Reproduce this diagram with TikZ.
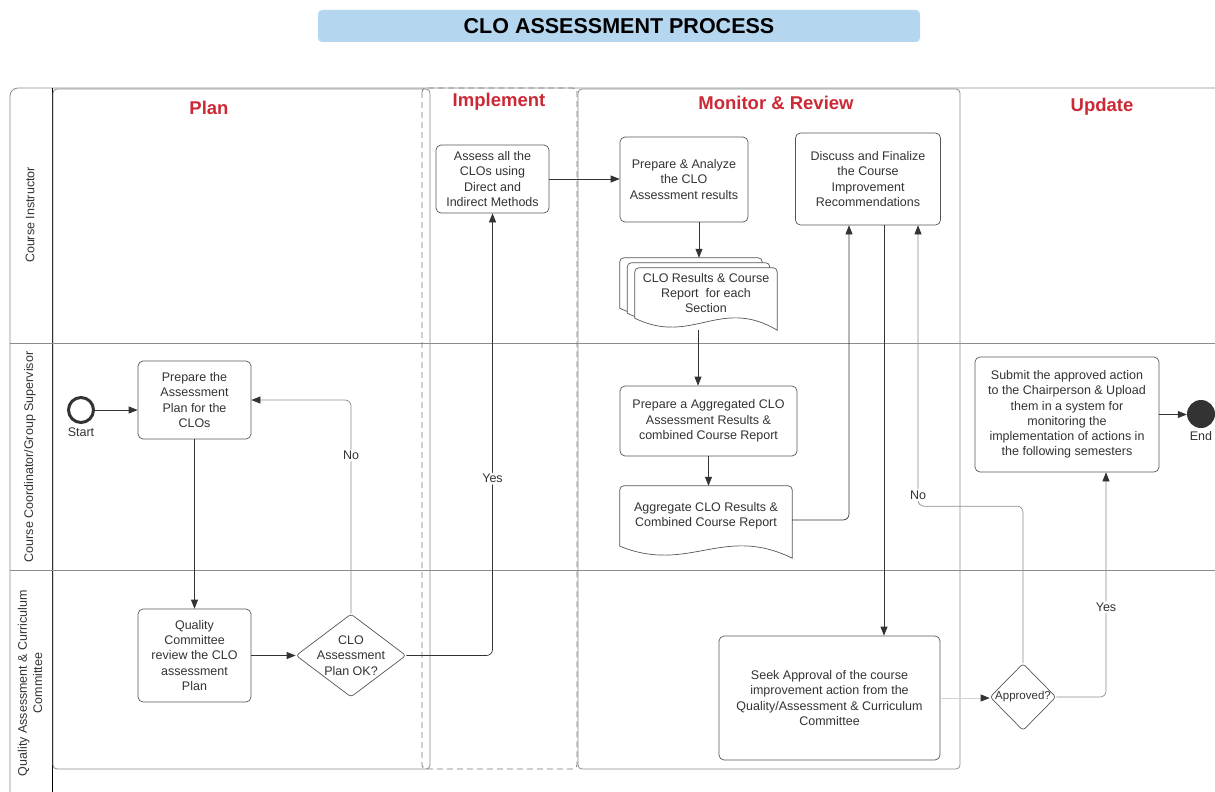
\documentclass[tikz,border=0pt]{standalone}
\usepackage{fontspec}
\setmainfont{Liberation Sans}
\usetikzlibrary{shapes.geometric,arrows.meta,calc,backgrounds}

\definecolor{titleblue}{HTML}{B5D6EF}
\definecolor{phasered}{HTML}{CC2936}
\definecolor{ink}{HTML}{333333}
\definecolor{edge}{HTML}{555555}
\definecolor{lane}{HTML}{8C8C8C}

\tikzset{
  txt/.style={font=\fontsize{12.5}{15.3}\selectfont, text=ink, align=center},
  task/.style={txt, draw=edge, line width=0.7pt, rounded corners=5pt, inner sep=2pt},
  decision/.style={txt, diamond, draw=edge, line width=0.7pt, rounded corners=3pt, inner sep=-12pt},
  docnode/.style={txt, inner sep=2pt},
  docline/.style={draw=edge, line width=0.7pt, fill=white},
  phase/.style={font=\fontsize{18.5}{22}\selectfont\bfseries, text=phasered},
  lanetitle/.style={txt, rotate=90},
  lbl/.style={txt, fill=white, inner sep=1.5pt},
  flow/.style={draw=ink, line width=0.7pt, rounded corners=6pt,
    -{Triangle[length=9pt,width=7pt,color=ink]}},
  faint/.style={flow, draw=lane},
  frame/.style={draw=lane, line width=0.8pt, rounded corners=4pt},
}

\newcommand\docoutline[2]{%
  \draw[docline] ($(#1.south west)+(#2)$) [rounded corners=4pt]
    -- ($(#1.north west)+(#2)$) -- ($(#1.north east)+(#2)$) [sharp corners]
    -- ($(#1.south east)+(#2)+(0,12)$)
    .. controls ($(#1.south west)!0.6!(#1.south east)+(#2)+(0,-22)$)
    and ($(#1.south west)!0.4!(#1.south east)+(#2)+(0,28)$) .. ($(#1.south west)+(#2)$)
    -- cycle;}

\begin{document}
\begin{tikzpicture}[x=1pt,y=-1pt]
\useasboundingbox (0,0) rectangle (1215,792);

\node[fill=titleblue, rounded corners=4pt, minimum width=602pt, minimum height=32pt,
  font=\fontsize{21.5}{24}\selectfont\bfseries] (title) at (619,26) {CLO ASSESSMENT PROCESS};

% pool and lanes
\draw[lane, line width=0.8pt, rounded corners=8pt] (10,792) -- (10,88) -- (1215,88);
\draw[black, line width=0.8pt] (52,88) -- (52,792);
\foreach \y in {343,570}
  \draw[lane, line width=0.8pt] (10,\y) -- (1215,\y);

\node[lanetitle] (instr) at (30,215) {Course Instructor};
\node[lanetitle] (coord) at (30,457) {Course Coordinator/Group Supervisor};
\node[lanetitle] (qacc) at (30,683) {Quality Assessment \& Curriculum\\Committee};

% phases
\draw[frame] (53,89) rectangle (430,769);
\draw[frame, draw=edge!80, dash pattern=on 6pt off 4pt] (422,88) rectangle (577,769);
\draw[frame] (578,89) rectangle (960,769);

\node[phase] (plan) at (209,108) {Plan};
\node[phase] (impl) at (499,102) {Implement};
\node[phase] (monitor) at (776,103) {Monitor \& Review};
\node[phase] (update) at (1102,107) {Update};

% steps
\node[task, minimum width=113pt, minimum height=68pt] (assess) at (492.5,179)
  {Assess all the\\CLOs using\\Direct and\\Indirect Methods};
\node[task, minimum width=128pt, minimum height=85pt] (analyze) at (684,179.5)
  {Prepare \& Analyze\\the CLO\\Assessment results};
\node[task, minimum width=145pt, minimum height=92pt] (discuss) at (868,179)
  {Discuss and Finalize\\the Course\\Improvement\\Recommendations};
\node[docnode, minimum width=142pt, minimum height=50pt] (clores) at (706,293)
  {CLO Results \& Course\\Report\ \ for each\\Section};

\node[circle, draw=ink, line width=3pt, minimum size=25pt, inner sep=0pt,
  label={[txt, inner sep=1pt, label distance=3pt]below:Start}] (start) at (81,410) {};
\node[task, minimum width=113pt, minimum height=78pt] (prepplan) at (194.5,400)
  {Prepare the\\Assessment\\Plan for the\\CLOs};
\node[task, minimum width=177pt, minimum height=70pt] (aggprep) at (708.5,421)
  {Prepare a Aggregated CLO\\Assessment Results \&\\combined Course Report};
\node[docnode, minimum width=172pt, minimum height=60pt] (aggdoc) at (706,516)
  {Aggregate CLO Results \&\\Combined Course Report};
\node[task, minimum width=184pt, minimum height=115pt] (submit) at (1067,414.5)
  {Submit the approved action\\to the Chairperson \& Upload\\them in a system for\\monitoring the\\implementation of actions in\\the following semesters};
\node[circle, fill=ink, minimum size=28pt, inner sep=0pt,
  label={[txt, inner sep=1pt, label distance=2pt]below:End}] (end) at (1201,414) {};

\node[task, minimum width=113pt, minimum height=93pt] (review) at (194.5,655.5)
  {Quality\\Committee\\review the CLO\\assessment\\Plan};
\node[decision, minimum width=110pt, minimum height=83pt] (planok) at (351,655.5)
  {CLO\\Assessment\\Plan OK?};
\node[task, minimum width=221pt, minimum height=124pt] (seek) at (829.5,698)
  {Seek Approval of the course\\improvement action from the\\Quality/Assessment \& Curriculum\\Committee};
\node[decision, minimum width=66pt, minimum height=67pt, font=\fontsize{11.5}{14}\selectfont]
  (approved) at (1023,697) {Approved?};

\begin{scope}[on background layer]
  \docoutline{clores}{-15,-10}
  \docoutline{clores}{-7.5,-5}
  \docoutline{clores}{0,0}
  \docoutline{aggdoc}{0,0}
\end{scope}

% connectors
\coordinate (clotop) at ($(clores.north)+(0,-10)$);
\coordinate (clobot) at ($(clores.south)+(-8,12)$);

\draw[flow] (start) -- (start -| prepplan.west);
\draw[flow] (prepplan) -- (review);
\draw[flow] (review) -- (planok);
\draw[faint] (planok.north) |- node[lbl, pos=0.37] (no1) {No} (prepplan.east);
\draw[flow] (planok.east) -| node[lbl, pos=0.70] (yes1) {Yes} (assess.south);
\draw[flow] (assess.east) -- (assess.east -| analyze.west);
\draw[flow] ([xshift=15pt]analyze.south) -- ([xshift=15pt]analyze.south |- clotop);
\draw[flow] (clobot) -- (clobot |- aggprep.north);
\draw[flow] (aggprep.south) -- (aggprep.south |- aggdoc.north);
\draw[flow] ([yshift=-4pt]aggdoc.east) -| ([xshift=-19pt]discuss.south);
\draw[flow] ([xshift=16pt]discuss.south) -- ([xshift=16pt]discuss.south |- seek.north);
\draw[flow, draw=lane!40] (seek.east) -- (seek.east -| approved.west);
\draw[faint] (approved.north) -- ++(0,-157) -| node[lbl, pos=0.52] (no2) {No} ([xshift=50pt]discuss.south);
\draw[faint] (approved.east) -| node[lbl, pos=0.70] (yes2) {Yes} ([xshift=39pt]submit.south);
\draw[flow] (submit.east) -- (submit.east -| end.west);
\end{tikzpicture}
\end{document}
